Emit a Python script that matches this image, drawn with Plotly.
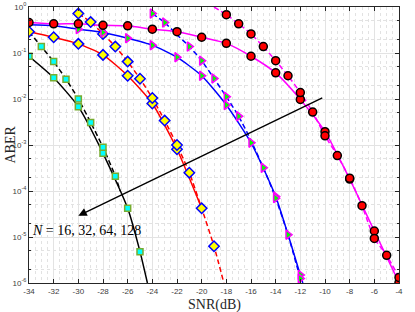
import math
import plotly.graph_objects as go

# ---------------- data ----------------
# N = 16 (black)
n16_solid_x = [-34, -32, -30, -28, -26, -25, -24.4]
n16_solid_y = [8.5e-2, 2.9e-2, 6.8e-3, 6.6e-4, 4.2e-5, 4.8e-6, 1.0e-6]
n16_solid_mx = [-34, -32, -30, -28, -26, -25]
n16_solid_my = [8.5e-2, 2.9e-2, 6.8e-3, 6.6e-4, 4.2e-5, 4.8e-6]
n16_dash_x = [-34, -33, -32, -31, -30, -29, -28, -27, -26.6]
n16_dash_y = [0.29, 0.138, 0.065, 0.027, 0.010, 3.1e-3, 8.9e-4, 2.1e-4, 1.0e-4]
n16_dash_mx = [-33, -32, -31, -30, -29, -28, -27]
n16_dash_my = [0.138, 0.065, 0.027, 0.010, 3.1e-3, 8.9e-4, 2.1e-4]

# N = 32 (red)
n32_solid_x = [-34, -32, -30, -28, -26, -24, -22, -20]
n32_solid_y = [0.29, 0.22, 0.158, 0.091, 0.032, 8.0e-3, 8.1e-4, 4.2e-5]
n32_dash_x = [-30, -29, -28, -27, -26, -25, -24, -23, -22, -21, -20, -19, -18.2]
n32_dash_y = [0.72, 0.47, 0.26, 0.138, 0.065, 0.0275, 0.0105, 3.4e-3, 1.0e-3, 2.5e-4, 4.2e-5, 6.3e-6, 1.0e-6]
n32_dash_mx = [-30, -29, -28, -27, -26, -25, -24, -23, -22, -21, -19]
n32_dash_my = [0.72, 0.47, 0.26, 0.138, 0.065, 0.0275, 0.0105, 3.4e-3, 1.0e-3, 2.5e-4, 6.3e-6]

# N = 64 (blue)
n64_solid_x = [-34, -32, -30, -28, -26, -24, -22, -20, -18, -16, -14, -12, -11.8]
n64_solid_y = [0.41, 0.39, 0.33, 0.28, 0.21, 0.148, 0.081, 0.032, 7.4e-3, 1.12e-3, 7.6e-5, 1.5e-6, 1.0e-6]
n64_solid_mx = [-30, -28, -26, -24, -22, -20, -18, -16, -14, -12]
n64_solid_my = [0.33, 0.28, 0.21, 0.148, 0.081, 0.032, 7.4e-3, 1.12e-3, 7.6e-5, 1.5e-6]
n64_dash_x = [-24, -23, -22, -21, -20, -19, -18, -17, -16, -15, -14, -13, -12]
n64_dash_y = [0.72, 0.46, 0.25, 0.138, 0.068, 0.028, 0.0112, 4.2e-3, 1.26e-3, 3.2e-4, 7.0e-5, 1.12e-5, 1.25e-6]
n64_dash_mx = [-24, -23, -21, -20, -19, -18, -17, -15, -14, -13, -12]
n64_dash_my = [0.72, 0.46, 0.138, 0.068, 0.028, 0.0112, 4.2e-3, 3.2e-4, 7.0e-5, 1.12e-5, 1.25e-6]

# N = 128 (magenta)
n128_solid_x = [-34, -32, -30, -28, -26, -24, -22, -20, -18, -16, -14, -12, -10, -8, -6, -4]
n128_solid_y = [0.46, 0.43, 0.43, 0.40, 0.39, 0.33, 0.29, 0.22, 0.162, 0.085, 0.037, 9.8e-3, 1.95e-3, 1.82e-4, 1.35e-5, 1.02e-6]
n128_dash_x = [-19, -18, -17, -16, -15, -14, -13, -12, -11, -10, -9, -8, -7, -6, -5, -4]
n128_dash_y = [1.0, 0.68, 0.43, 0.26, 0.138, 0.068, 0.032, 0.0138, 5.2e-3, 1.58e-3, 5.9e-4, 1.9e-4, 4.8e-5, 9.3e-6, 4.0e-6, 1.32e-6]
n128_dash_mx = [-18, -17, -16, -15, -14, -13, -12, -11, -10, -9, -8, -7, -6, -5, -4]
n128_dash_my = [0.68, 0.43, 0.26, 0.138, 0.068, 0.032, 0.0138, 5.2e-3, 1.58e-3, 5.9e-4, 1.9e-4, 4.8e-5, 9.3e-6, 4.0e-6, 1.32e-6]

x_ticks = list(range(-34, -3, 2))
x_ticktext = [str(v) for v in x_ticks]
y_tickvals = [1e-6, 1e-5, 1e-4, 1e-3, 1e-2, 1e-1, 1]
y_ticktext = ["10<sup>-6</sup>", "10<sup>-5</sup>", "10<sup>-4</sup>", "10<sup>-3</sup>",
              "10<sup>-2</sup>", "10<sup>-1</sup>", "10<sup>0</sup>"]

x_title = "SNR(dB)"
y_title = "ABER"
label_text = "<i>N</i> = 16, 32, 64, 128"
arrow_tail = (-10.1, 0.011)
arrow_head = (-30.0, 2.9e-5)
label_pos = (-33.9, 1.4e-5)

# ---------------- figure ----------------
fig = go.Figure()
DASH = "5px,3px"


def line(x, y, color, dash):
    fig.add_trace(go.Scatter(x=x, y=y, mode="lines",
                             line=dict(color=color, width=1.5, dash=dash, shape="spline", smoothing=0.6),
                             hoverinfo="skip", showlegend=False))


def marks(x, y, symbol, fill, edge, size):
    fig.add_trace(go.Scatter(x=x, y=y, mode="markers",
                             marker=dict(symbol=symbol, color=fill, size=size, line=dict(color=edge, width=1.5)),
                             showlegend=False))


line(n16_solid_x, n16_solid_y, "black", "solid")
line(n16_dash_x, n16_dash_y, "black", DASH)
line(n32_solid_x, n32_solid_y, "#FF0000", "solid")
line(n32_dash_x, n32_dash_y, "#FF0000", DASH)
line(n64_solid_x, n64_solid_y, "#0000FF", "solid")
line(n64_dash_x, n64_dash_y, "#0000FF", DASH)
line(n128_solid_x, n128_solid_y, "#FF00FF", "solid")
line(n128_dash_x, n128_dash_y, "#FF00FF", DASH)

sq = ("square", "#00FFFF", "#77AC30", 6)
dm = ("diamond", "#FFFF00", "#0000FF", 8)
tr = ("triangle-right", "#00FF00", "#FF00FF", 8)
ci = ("circle", "#FF0000", "black", 8)

marks(n16_solid_mx, n16_solid_my, *sq)
marks(n16_dash_mx, n16_dash_my, *sq)
marks(n32_solid_x, n32_solid_y, *dm)
marks(n32_dash_mx, n32_dash_my, *dm)
marks(n64_solid_mx, n64_solid_my, *tr)
marks(n64_dash_mx, n64_dash_my, *tr)
marks(n128_solid_x, n128_solid_y, *ci)
marks(n128_dash_mx, n128_dash_my, *ci)

fig.add_annotation(x=arrow_head[0], y=math.log10(arrow_head[1]), ax=arrow_tail[0], ay=math.log10(arrow_tail[1]),
                   xref="x", yref="y", axref="x", ayref="y", text="", showarrow=True,
                   arrowhead=2, arrowsize=1.2, arrowwidth=1.4, arrowcolor="black")
fig.add_annotation(x=label_pos[0], y=math.log10(label_pos[1]), xref="x", yref="y", text=label_text,
                   showarrow=False, xanchor="left", yanchor="middle",
                   font=dict(family="Liberation Serif, DejaVu Serif, serif", size=14, color="black"))

serif = dict(family="Liberation Serif, DejaVu Serif, serif", size=14, color="#262626")
fig.add_annotation(x=0.5, y=0, xref="paper", yref="paper", yshift=-12, text=x_title, showarrow=False,
                   xanchor="center", yanchor="top", font=serif)
fig.add_annotation(x=0, y=0.5, xref="paper", yref="paper", xshift=-29, text=y_title, showarrow=False,
                   xanchor="left", yanchor="middle", textangle=-90, font=serif)

axis_common = dict(showline=True, linecolor="#262626", linewidth=1, mirror="allticks", ticks="inside",
                   ticklen=4, tickcolor="#262626", showgrid=True, gridcolor="#e3e3e3", gridwidth=1,
                   zeroline=False, automargin=False,
                   tickfont=dict(family="Liberation Sans, Arial, sans-serif", size=8, color="#404040"))

fig.update_xaxes(range=[-34, -4], tickvals=x_ticks, ticktext=x_ticktext,
                 minor=dict(dtick=0.5, showgrid=True, gridcolor="#e2e2e2", griddash="dot", ticks=""),
                 **axis_common)
fig.update_yaxes(type="log", range=[-6, 0], tickvals=y_tickvals, ticktext=y_ticktext,
                 minor=dict(showgrid=True, gridcolor="#e2e2e2", griddash="dot", ticks="inside", ticklen=2,
                            tickcolor="#262626"),
                 **axis_common)

fig.update_layout(width=415, height=312, margin=dict(l=29, r=16, t=7, b=29, autoexpand=False),
                  plot_bgcolor="white", paper_bgcolor="white")

fig.write_html("out.html", config={"displayModeBar": False},
               post_script="document.body.style.margin='0';document.body.style.overflow='hidden';")
